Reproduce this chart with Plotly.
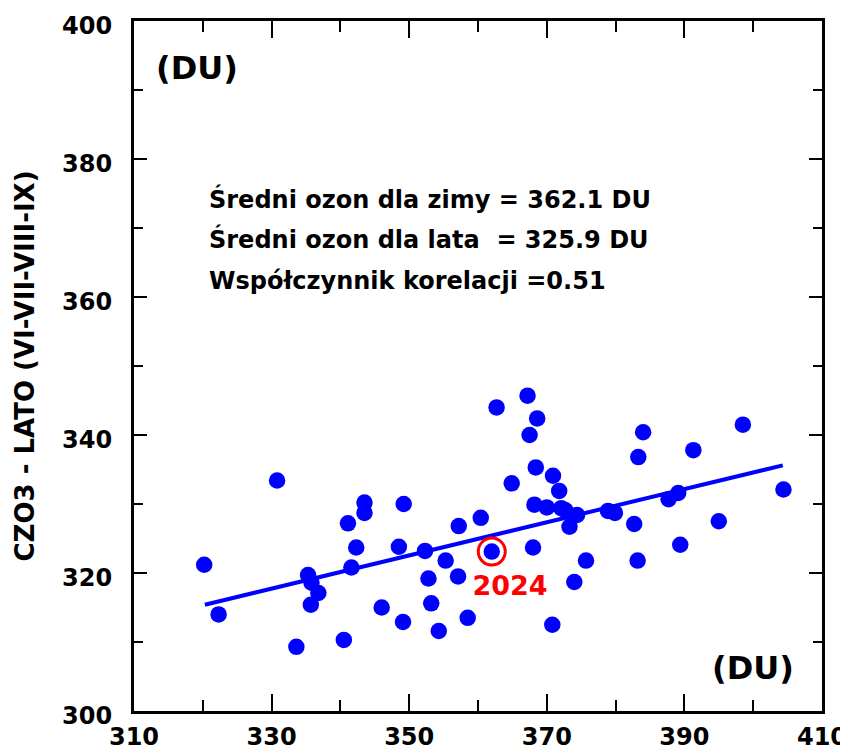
import plotly.graph_objects as go

# Winter ozone (x, DU) vs summer ozone (y, DU)
winter_du = [362.7, 330.8, 320.2, 322.3, 343.5, 343.5, 341.1, 349.2, 342.3, 348.5,
             341.6, 335.3, 335.8, 336.8, 335.7, 352.3, 357.2, 360.4, 355.3, 352.8,
             357.1, 346.0, 353.2, 349.1, 354.3, 358.5, 333.6, 340.5, 362.0,
             367.2, 368.6, 367.5, 384.0, 383.3, 391.3, 398.5, 364.9, 368.4, 370.9,
             371.8, 368.2, 370.0, 372.1, 372.7, 374.4, 373.3, 378.9, 379.9, 382.7,
             387.7, 389.1, 404.4, 395.0, 389.4, 368.0, 375.7, 383.2, 374.0, 370.8]
summer_du = [344.0, 333.4, 321.2, 314.0, 330.2, 328.7, 327.2, 330.0, 323.7, 323.8,
             320.8, 319.7, 318.6, 317.1, 315.4, 323.2, 326.8, 328.0, 321.8, 319.2,
             319.5, 315.0, 315.6, 312.9, 311.6, 313.5, 309.3, 310.3, 323.1,
             345.7, 342.4, 340.0, 340.4, 336.8, 337.8, 341.5, 333.0, 335.3, 334.1,
             331.9, 329.9, 329.5, 329.4, 329.1, 328.4, 326.7, 329.0, 328.7, 327.1,
             330.7, 331.6, 332.1, 327.5, 324.1, 323.7, 321.8, 321.8, 318.7, 312.5]

# Highlighted year
highlight_year = "2024"
highlight_x = [362.0]
highlight_y = [323.1]
highlight_label_x = [364.65]
highlight_label_y = [317.8]

# Regression line endpoints
trend_x = [320.3, 404.3]
trend_y = [315.4, 335.6]

x_ticks = [310, 330, 350, 370, 390, 410]
y_ticks = [300, 320, 340, 360, 380, 400]

stats_lines = ["Średni ozon dla zimy = 362.1 DU",
               "Średni ozon dla lata  = 325.9 DU",
               "Współczynnik korelacji =0.51"]
stats_y = [374.2, 368.4, 362.3]
stats_x = 320.6

FONT = "DejaVu Sans"
BLUE = "#0000FF"
RED = "#FF0000"

fig = go.Figure()
fig.add_trace(go.Scatter(x=trend_x, y=trend_y, mode="lines",
                         line=dict(color=BLUE, width=4), hoverinfo="skip",
                         showlegend=False))
fig.add_trace(go.Scatter(x=winter_du, y=summer_du, mode="markers",
                         marker=dict(color=BLUE, size=16.5, line=dict(width=0)),
                         showlegend=False))
fig.add_trace(go.Scatter(x=highlight_x, y=highlight_y, mode="markers",
                         marker=dict(symbol="circle-open", color=RED, size=27,
                                     line=dict(color=RED, width=3)),
                         showlegend=False))
fig.add_trace(go.Scatter(x=highlight_label_x, y=highlight_label_y, mode="text",
                         text=[highlight_year],
                         textfont=dict(family=FONT, size=27, color=RED, weight="bold"),
                         showlegend=False))

annotations = []
for txt, yy in zip(stats_lines, stats_y):
    annotations.append(dict(x=stats_x, y=yy, xref="x", yref="y", text="<b>%s</b>" % txt.replace("  ", "&nbsp; "),
                            showarrow=False, xanchor="left", yanchor="middle",
                            font=dict(family=FONT, size=24, color="black")))
annotations.append(dict(x=0.092, y=0.932, xref="paper", yref="paper", text="<b>(DU)</b>",
                        showarrow=False, xanchor="center", yanchor="middle",
                        font=dict(family=FONT, size=32, color="black")))
annotations.append(dict(x=0.899, y=0.062, xref="paper", yref="paper", text="<b>(DU)</b>",
                        showarrow=False, xanchor="center", yanchor="middle",
                        font=dict(family=FONT, size=32, color="black")))

axis_common = dict(showgrid=False, zeroline=False, showline=True, linecolor="black",
                   linewidth=3, mirror="ticks", ticks="inside", tickcolor="black",
                   tickwidth=1.5, automargin=False,
                   tickfont=dict(family=FONT, size=24, color="black", weight="bold"))

fig.update_layout(
    width=840, height=745,
    margin=dict(l=126, r=26, t=13, b=42),
    paper_bgcolor="white", plot_bgcolor="white",
    annotations=annotations,
    xaxis=dict(range=[310, 410], tickvals=x_ticks, ticklen=17,
               minor=dict(dtick=10, tick0=310, ticklen=11, ticks="inside", tickcolor="black", tickwidth=1.5),
               ticklabelstandoff=2, **axis_common),
    yaxis=dict(range=[300, 400], tickvals=y_ticks, ticklen=13,
               minor=dict(dtick=10, tick0=300, ticklen=9, ticks="inside", tickcolor="black", tickwidth=1.5),
               ticklabelstandoff=14, ticklabelshift=5,
               title=dict(text="<b>CZO3 - LATO (VI-VII-VIII-IX)</b>",
                          font=dict(family=FONT, size=26, color="black"), standoff=20),
               **axis_common),
)

fig.write_html("out.html")
